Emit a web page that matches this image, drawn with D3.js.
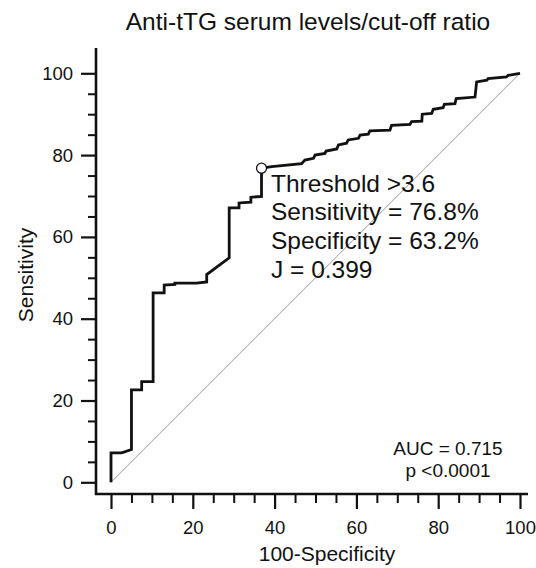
<!DOCTYPE html>
<html>
<head>
<meta charset="utf-8">
<script src="https://cdn.jsdelivr.net/npm/d3@7"></script>
<style>
  body { margin: 0; background: #fff; }
  text { font-family: "Liberation Sans", Arial, sans-serif; fill: #111; }
</style>
</head>
<body>
<div id="chart"></div>
<script>
// ROC curve points: 100-Specificity (x) and Sensitivity (y)
var fpr = [0, 0, 2.6, 5.0, 5.0, 7.5, 7.5, 10.3, 10.3, 13.0, 13.0, 15.6, 15.6, 20.9, 23.4, 23.4,
  28.9, 28.9, 31.3, 31.3, 34.2, 34.2, 36.8, 36.8, 39.3, 46.6, 47.4, 49.5, 49.9, 52.3, 52.6,
  55.2, 55.6, 57.6, 58.0, 60.5, 60.9, 62.9, 63.3, 68.2, 68.6, 73.1, 73.5, 76.0, 76.1, 78.4,
  78.8, 81.2, 81.5, 84.1, 84.4, 86.6, 89.0, 89.4, 91.9, 92.2, 96.7, 97.1, 100];
var tpr = [0, 7.2, 7.2, 8.0, 22.6, 22.6, 24.6, 24.6, 46.3, 46.3, 48.2, 48.4, 48.7, 48.7, 49.0, 50.8,
  54.9, 67.1, 67.1, 68.3, 68.5, 69.7, 69.9, 76.8, 77.2, 77.9, 78.8, 79.2, 80.0, 80.4, 81.0,
  81.5, 82.5, 82.9, 83.7, 84.1, 84.9, 85.1, 85.9, 86.1, 87.3, 87.5, 88.2, 88.3, 90.0, 90.2,
  91.2, 91.6, 92.4, 92.6, 93.8, 94.0, 94.2, 97.9, 98.3, 98.7, 99.1, 99.5, 100];

// chosen cut-off point
var cutX = [36.8];
var cutY = [76.8];

var majorTicks = [0, 20, 40, 60, 80, 100];
var minorTicks = d3.range(0, 101, 5).filter(d => d % 20 != 0);

var infoLines = ["Threshold >3.6", "Sensitivity = 76.8%", "Specificity = 63.2%", "J = 0.399"];
var statLines = ["AUC = 0.715", "p <0.0001"];

var svgWidth = 536;
var svgHeight = 568;

var svg = d3.select("#chart")
  .append("svg")
  .attr("width", svgWidth)
  .attr("height", svgHeight);

var xScale = d3.scaleLinear().domain([0, 100]).range([111, 520]);
var yScale = d3.scaleLinear().domain([0, 100]).range([482.3, 73.3]);

var axisX = 96;   // position of detached y spine
var axisY = 494;  // position of detached x spine

// title
svg.append("text")
  .attr("x", 308)
  .attr("y", 30)
  .attr("text-anchor", "middle")
  .attr("font-size", "24.5px")
  .text("Anti-tTG serum levels/cut-off ratio");

// axes - major ticks with labels
var leftAxis = d3.axisLeft(yScale).tickValues(majorTicks).tickSize(15).tickPadding(8);
var bottomAxis = d3.axisBottom(xScale).tickValues(majorTicks).tickSize(15);

var gy = svg.append("g")
  .attr("transform", `translate(${axisX}, 0)`)
  .call(leftAxis);
gy.select(".domain").remove();
gy.selectAll("line").attr("stroke", "#111").attr("stroke-width", 2.2);
gy.selectAll("text").attr("font-size", "18.5px").attr("font-family", null);

var gx = svg.append("g")
  .attr("transform", `translate(0, ${axisY})`)
  .call(bottomAxis);
gx.select(".domain").remove();
gx.selectAll("line").attr("stroke", "#111").attr("stroke-width", 2.2);
gx.selectAll("text")
  .attr("y", 40)
  .attr("dy", null)
  .attr("font-size", "18.5px")
  .attr("font-family", null);

// minor ticks
var gyMinor = svg.append("g")
  .attr("transform", `translate(${axisX}, 0)`)
  .call(d3.axisLeft(yScale).tickValues(minorTicks).tickSize(8).tickFormat(""));
gyMinor.select(".domain").remove();
gyMinor.selectAll("line").attr("stroke", "#111").attr("stroke-width", 2);

var gxMinor = svg.append("g")
  .attr("transform", `translate(0, ${axisY})`)
  .call(d3.axisBottom(xScale).tickValues(minorTicks).tickSize(9).tickFormat(""));
gxMinor.select(".domain").remove();
gxMinor.selectAll("line").attr("stroke", "#111").attr("stroke-width", 2);

// spines
svg.append("path")
  .attr("d", `M${axisX},48 L${axisX},${axisY} L528,${axisY}`)
  .attr("fill", "none")
  .attr("stroke", "#111")
  .attr("stroke-width", 2.6);

// axis titles
svg.append("text")
  .attr("x", 327)
  .attr("y", 561)
  .attr("text-anchor", "middle")
  .attr("font-size", "21px")
  .text("100-Specificity");

svg.append("text")
  .attr("transform", "rotate(-90)")
  .attr("x", -275)
  .attr("y", 33)
  .attr("text-anchor", "middle")
  .attr("font-size", "21px")
  .text("Sensitivity");

// reference diagonal
svg.append("line")
  .attr("x1", xScale(0))
  .attr("y1", yScale(0))
  .attr("x2", xScale(100))
  .attr("y2", yScale(100))
  .attr("stroke", "#9a9a9a")
  .attr("stroke-width", 1);

// ROC curve
var rocLine = d3.line()
  .x((d, i) => xScale(fpr[i]))
  .y((d, i) => yScale(tpr[i]));

svg.append("path")
  .datum(fpr)
  .attr("d", rocLine)
  .attr("fill", "none")
  .attr("stroke", "#111")
  .attr("stroke-width", 2.8)
  .attr("stroke-linejoin", "miter");

// cut-off marker
svg.selectAll(".cut")
  .data(cutX)
  .enter()
  .append("circle")
  .attr("cx", d => xScale(d))
  .attr("cy", (d, i) => yScale(cutY[i]))
  .attr("r", 5)
  .attr("fill", "#fff")
  .attr("stroke", "#111")
  .attr("stroke-width", 1.3);

// annotation text
var infoBase = [192, 220.3, 248.6, 278];
svg.selectAll(".info")
  .data(infoLines)
  .enter()
  .append("text")
  .attr("x", 271)
  .attr("y", (d, i) => infoBase[i])
  .attr("font-size", "24.5px")
  .text(d => d);

svg.selectAll(".stat")
  .data(statLines)
  .enter()
  .append("text")
  .attr("x", 448)
  .attr("y", (d, i) => 455 + i * 22)
  .attr("text-anchor", "middle")
  .attr("font-size", "19px")
  .text(d => d);
</script>
</body>
</html>
